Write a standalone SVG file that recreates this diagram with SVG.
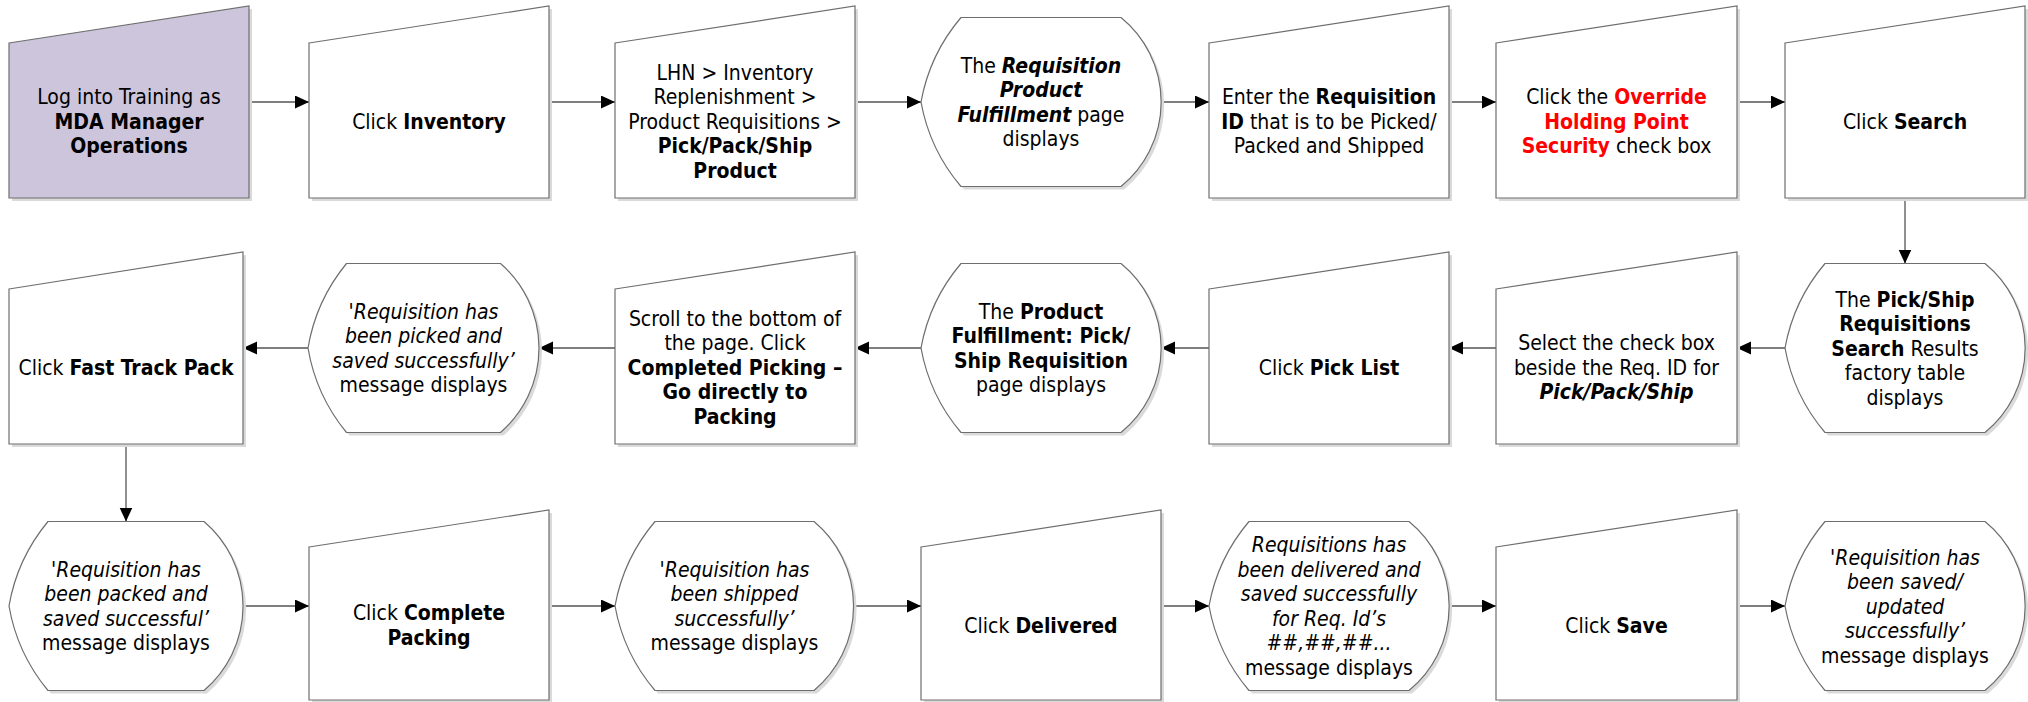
<svg xmlns="http://www.w3.org/2000/svg" width="2028" height="702" viewBox="0 0 2028 702">
<style>
.t{font-family:"DejaVu Sans Condensed","DejaVu Sans",sans-serif;font-size:21px;text-anchor:middle;fill:#000}
.b{font-weight:bold}
.i{font-style:italic}
.bi{font-weight:bold;font-style:italic}
.r{fill:#ff0000;font-weight:bold}
.box{fill:#fff;stroke:#6e6e6e;stroke-width:1.2}
.p{fill:#ccc5dc}
.sh{fill:#dadada}
.c{stroke:#555;stroke-width:1.3;fill:none;marker-end:url(#ah)}
</style>
<defs>
<marker id="ah" markerUnits="userSpaceOnUse" markerWidth="15" markerHeight="14" refX="14" refY="6.5" orient="auto"><path d="M0,0 L14,6.5 L0,13 Z" fill="#000"/></marker>
</defs>
<rect width="2028" height="702" fill="#fff"/>

<g id="connectors">
<path class="c" d="M249,102 H309"/>
<path class="c" d="M549,102 H615"/>
<path class="c" d="M855,102 H921"/>
<path class="c" d="M1161,102 H1209"/>
<path class="c" d="M1449,102 H1496"/>
<path class="c" d="M1737,102 H1785"/>
<path class="c" d="M1905,198 V263.5"/>
<path class="c" d="M1785,348 H1737"/>
<path class="c" d="M1496,348 H1449"/>
<path class="c" d="M1209,348 H1161"/>
<path class="c" d="M921,348 H855"/>
<path class="c" d="M615,348 H539"/>
<path class="c" d="M308,348 H243"/>
<path class="c" d="M126,444 V521.5"/>
<path class="c" d="M243,606 H309"/>
<path class="c" d="M549,606 H615"/>
<path class="c" d="M854,606 H921"/>
<path class="c" d="M1161,606 H1209"/>
<path class="c" d="M1449,606 H1496"/>
<path class="c" d="M1737,606 H1785"/>
</g>

<!-- Row 1 -->
<g id="n1">
<path class="sh" transform="translate(3 3)" d="M9,43 L249,6 L249,198 L9,198 Z"/>
<path class="box p" d="M9,43 L249,6 L249,198 L9,198 Z"/>
<text class="t" x="129" y="104">Log into Training as</text>
<text class="t b" x="129" y="128.5">MDA Manager</text>
<text class="t b" x="129" y="153">Operations</text>
</g>
<g id="n2">
<path class="sh" transform="translate(3 3)" d="M309,43 L549,6 L549,198 L309,198 Z"/>
<path class="box" d="M309,43 L549,6 L549,198 L309,198 Z"/>
<text class="t" x="429" y="128.5">Click <tspan class="b">Inventory</tspan></text>
</g>
<g id="n3">
<path class="sh" transform="translate(3 3)" d="M615,43 L855,6 L855,198 L615,198 Z"/>
<path class="box" d="M615,43 L855,6 L855,198 L615,198 Z"/>
<text class="t" x="735" y="79.5">LHN &gt; Inventory</text>
<text class="t" x="735" y="104">Replenishment &gt;</text>
<text class="t" x="735" y="128.5">Product Requisitions &gt;</text>
<text class="t b" x="735" y="153">Pick/Pack/Ship</text>
<text class="t b" x="735" y="177.5">Product</text>
</g>
<g id="n4">
<path class="sh" transform="translate(3 3)" d="M961,17.5 L1121,17.5 A109 109 0 0 1 1121,186.5 L961,186.5 A180 180 0 0 1 921,102 A180 180 0 0 1 961,17.5 Z"/>
<path class="box" d="M961,17.5 L1121,17.5 A109 109 0 0 1 1121,186.5 L961,186.5 A180 180 0 0 1 921,102 A180 180 0 0 1 961,17.5 Z"/>
<text class="t" x="1041" y="72.75">The <tspan class="bi">Requisition</tspan></text>
<text class="t bi" x="1041" y="97.25">Product</text>
<text class="t" x="1041" y="121.75"><tspan class="bi">Fulfillment</tspan> page</text>
<text class="t" x="1041" y="146.25">displays</text>
</g>
<g id="n5">
<path class="sh" transform="translate(3 3)" d="M1209,43 L1449,6 L1449,198 L1209,198 Z"/>
<path class="box" d="M1209,43 L1449,6 L1449,198 L1209,198 Z"/>
<text class="t" x="1329" y="104">Enter the <tspan class="b">Requisition</tspan></text>
<text class="t" x="1329" y="128.5"><tspan class="b">ID</tspan> that is to be Picked/</text>
<text class="t" x="1329" y="153">Packed and Shipped</text>
</g>
<g id="n6">
<path class="sh" transform="translate(3 3)" d="M1496,43 L1737,6 L1737,198 L1496,198 Z"/>
<path class="box" d="M1496,43 L1737,6 L1737,198 L1496,198 Z"/>
<text class="t" x="1616.5" y="104">Click the <tspan class="r">Override</tspan></text>
<text class="t r" x="1616.5" y="128.5">Holding Point</text>
<text class="t" x="1616.5" y="153"><tspan class="r">Security</tspan> check box</text>
</g>
<g id="n7">
<path class="sh" transform="translate(3 3)" d="M1785,43 L2025,6 L2025,198 L1785,198 Z"/>
<path class="box" d="M1785,43 L2025,6 L2025,198 L1785,198 Z"/>
<text class="t" x="1905" y="128.5">Click <tspan class="b">Search</tspan></text>
</g>

<!-- Row 2 -->
<g id="n8">
<path class="sh" transform="translate(3 3)" d="M1825,263.5 L1985,263.5 A109 109 0 0 1 1985,432.5 L1825,432.5 A180 180 0 0 1 1785,348 A180 180 0 0 1 1825,263.5 Z"/>
<path class="box" d="M1825,263.5 L1985,263.5 A109 109 0 0 1 1985,432.5 L1825,432.5 A180 180 0 0 1 1785,348 A180 180 0 0 1 1825,263.5 Z"/>
<text class="t" x="1905" y="306.5">The <tspan class="b">Pick/Ship</tspan></text>
<text class="t b" x="1905" y="331">Requisitions</text>
<text class="t" x="1905" y="355.5"><tspan class="b">Search</tspan> Results</text>
<text class="t" x="1905" y="380">factory table</text>
<text class="t" x="1905" y="404.5">displays</text>
</g>
<g id="n9">
<path class="sh" transform="translate(3 3)" d="M1496,289 L1737,252 L1737,444 L1496,444 Z"/>
<path class="box" d="M1496,289 L1737,252 L1737,444 L1496,444 Z"/>
<text class="t" x="1616.5" y="350">Select the check box</text>
<text class="t" x="1616.5" y="374.5">beside the Req. ID for</text>
<text class="t bi" x="1616.5" y="399">Pick/Pack/Ship</text>
</g>
<g id="n10">
<path class="sh" transform="translate(3 3)" d="M1209,289 L1449,252 L1449,444 L1209,444 Z"/>
<path class="box" d="M1209,289 L1449,252 L1449,444 L1209,444 Z"/>
<text class="t" x="1329" y="374.5">Click <tspan class="b">Pick List</tspan></text>
</g>
<g id="n11">
<path class="sh" transform="translate(3 3)" d="M961,263.5 L1121,263.5 A109 109 0 0 1 1121,432.5 L961,432.5 A180 180 0 0 1 921,348 A180 180 0 0 1 961,263.5 Z"/>
<path class="box" d="M961,263.5 L1121,263.5 A109 109 0 0 1 1121,432.5 L961,432.5 A180 180 0 0 1 921,348 A180 180 0 0 1 961,263.5 Z"/>
<text class="t" x="1041" y="318.75">The <tspan class="b">Product</tspan></text>
<text class="t b" x="1041" y="343.25">Fulfillment: Pick/</text>
<text class="t b" x="1041" y="367.75">Ship Requisition</text>
<text class="t" x="1041" y="392.25">page displays</text>
</g>
<g id="n12">
<path class="sh" transform="translate(3 3)" d="M615,289 L855,252 L855,444 L615,444 Z"/>
<path class="box" d="M615,289 L855,252 L855,444 L615,444 Z"/>
<text class="t" x="735" y="325.5">Scroll to the bottom of</text>
<text class="t" x="735" y="350">the page. Click</text>
<text class="t b" x="735" y="374.5">Completed Picking –</text>
<text class="t b" x="735" y="399">Go directly to</text>
<text class="t b" x="735" y="423.5">Packing</text>
</g>
<g id="n13">
<path class="sh" transform="translate(3 3)" d="M346.5,263.5 L500.5,263.5 A112 112 0 0 1 500.5,432.5 L346.5,432.5 A180 180 0 0 1 308,348 A180 180 0 0 1 346.5,263.5 Z"/>
<path class="box" d="M346.5,263.5 L500.5,263.5 A112 112 0 0 1 500.5,432.5 L346.5,432.5 A180 180 0 0 1 308,348 A180 180 0 0 1 346.5,263.5 Z"/>
<text class="t i" x="423.5" y="318.75">'Requisition has</text>
<text class="t i" x="423.5" y="343.25">been picked and</text>
<text class="t i" x="423.5" y="367.75">saved successfully’</text>
<text class="t" x="423.5" y="392.25">message displays</text>
</g>
<g id="n14">
<path class="sh" transform="translate(3 3)" d="M9,289 L243,252 L243,444 L9,444 Z"/>
<path class="box" d="M9,289 L243,252 L243,444 L9,444 Z"/>
<text class="t" x="126" y="374.5">Click <tspan class="b">Fast Track Pack</tspan></text>
</g>

<!-- Row 3 -->
<g id="n15">
<path class="sh" transform="translate(3 3)" d="M48,521.5 L204,521.5 A111 111 0 0 1 204,690.5 L48,690.5 A180 180 0 0 1 9,606 A180 180 0 0 1 48,521.5 Z"/>
<path class="box" d="M48,521.5 L204,521.5 A111 111 0 0 1 204,690.5 L48,690.5 A180 180 0 0 1 9,606 A180 180 0 0 1 48,521.5 Z"/>
<text class="t i" x="126" y="576.75">'Requisition has</text>
<text class="t i" x="126" y="601.25">been packed and</text>
<text class="t i" x="126" y="625.75">saved successful’</text>
<text class="t" x="126" y="650.25">message displays</text>
</g>
<g id="n16">
<path class="sh" transform="translate(3 3)" d="M309,547 L549,510 L549,700 L309,700 Z"/>
<path class="box" d="M309,547 L549,510 L549,700 L309,700 Z"/>
<text class="t" x="429" y="620.25">Click <tspan class="b">Complete</tspan></text>
<text class="t b" x="429" y="644.75">Packing</text>
</g>
<g id="n17">
<path class="sh" transform="translate(3 3)" d="M655,521.5 L814,521.5 A110 110 0 0 1 814,690.5 L655,690.5 A180 180 0 0 1 615,606 A180 180 0 0 1 655,521.5 Z"/>
<path class="box" d="M655,521.5 L814,521.5 A110 110 0 0 1 814,690.5 L655,690.5 A180 180 0 0 1 615,606 A180 180 0 0 1 655,521.5 Z"/>
<text class="t i" x="734.5" y="576.75">'Requisition has</text>
<text class="t i" x="734.5" y="601.25">been shipped</text>
<text class="t i" x="734.5" y="625.75">successfully’</text>
<text class="t" x="734.5" y="650.25">message displays</text>
</g>
<g id="n18">
<path class="sh" transform="translate(3 3)" d="M921,547 L1161,510 L1161,700 L921,700 Z"/>
<path class="box" d="M921,547 L1161,510 L1161,700 L921,700 Z"/>
<text class="t" x="1041" y="632.5">Click <tspan class="b">Delivered</tspan></text>
</g>
<g id="n19">
<path class="sh" transform="translate(3 3)" d="M1249,521.5 L1409,521.5 A109 109 0 0 1 1409,690.5 L1249,690.5 A180 180 0 0 1 1209,606 A180 180 0 0 1 1249,521.5 Z"/>
<path class="box" d="M1249,521.5 L1409,521.5 A109 109 0 0 1 1409,690.5 L1249,690.5 A180 180 0 0 1 1209,606 A180 180 0 0 1 1249,521.5 Z"/>
<text class="t i" x="1329" y="552.25">Requisitions has</text>
<text class="t i" x="1329" y="576.75">been delivered and</text>
<text class="t i" x="1329" y="601.25">saved successfully</text>
<text class="t i" x="1329" y="625.75">for Req. Id’s</text>
<text class="t i" x="1329" y="650.25">##,##,##...</text>
<text class="t" x="1329" y="674.75">message displays</text>
</g>
<g id="n20">
<path class="sh" transform="translate(3 3)" d="M1496,547 L1737,510 L1737,700 L1496,700 Z"/>
<path class="box" d="M1496,547 L1737,510 L1737,700 L1496,700 Z"/>
<text class="t" x="1616.5" y="632.5">Click <tspan class="b">Save</tspan></text>
</g>
<g id="n21">
<path class="sh" transform="translate(3 3)" d="M1825,521.5 L1985,521.5 A109 109 0 0 1 1985,690.5 L1825,690.5 A180 180 0 0 1 1785,606 A180 180 0 0 1 1825,521.5 Z"/>
<path class="box" d="M1825,521.5 L1985,521.5 A109 109 0 0 1 1985,690.5 L1825,690.5 A180 180 0 0 1 1785,606 A180 180 0 0 1 1825,521.5 Z"/>
<text class="t i" x="1905" y="564.5">'Requisition has</text>
<text class="t i" x="1905" y="589">been saved/</text>
<text class="t i" x="1905" y="613.5">updated</text>
<text class="t i" x="1905" y="638">successfully’</text>
<text class="t" x="1905" y="662.5">message displays</text>
</g>
</svg>
